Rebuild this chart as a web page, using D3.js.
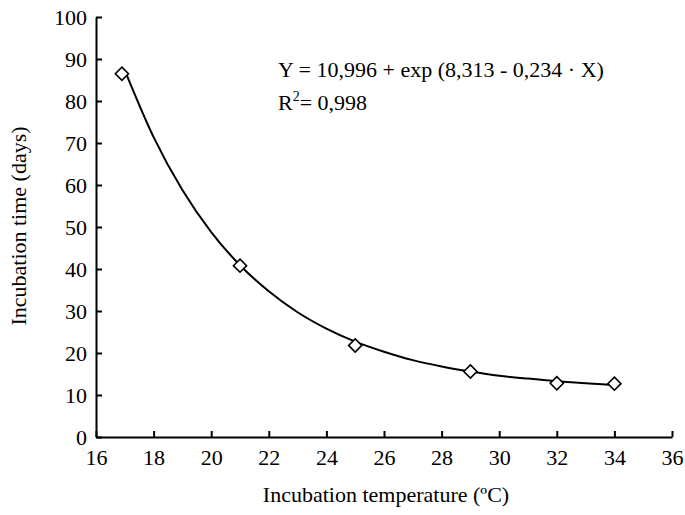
<!DOCTYPE html>
<html><head><meta charset="utf-8">
<script src="https://cdn.jsdelivr.net/npm/d3@7"></script>
</head><body style="margin:0">
<svg id="c" width="685" height="515"></svg>
<script>
const obsTemp = [16.9, 21, 25, 29, 32, 34];
const obsDays = [86.5, 40.8, 21.8, 15.6, 12.8, 12.7];
const fitTemp = [17,18,19,20,21,22,23,24,25,26,27,28,29,30,31,32,33,34];
const fitDays = [87.3,71.4,58.8,48.8,40.9,34.7,29.7,25.8,22.7,20.3,18.3,16.8,15.6,14.6,13.9,13.3,12.8,12.4];
const xTicks = [16,18,20,22,24,26,28,30,32,34,36];
const yTicks = [0,10,20,30,40,50,60,70,80,90,100];
const eqLine1 = "Y = 10,996 + exp (8,313 - 0,234 · X)";
const eqLine2 = "= 0,998";
const xTitle = "Incubation temperature (ºC)";
const yTitle = "Incubation time (days)";

const FONT = "Liberation Serif";
const svg = d3.select("#c");
const x = d3.scaleLinear().domain([16,36]).range([96,672]);
const y = d3.scaleLinear().domain([0,100]).range([437,17]);

const xa = svg.append("g").attr("transform","translate(0,437)")
  .call(d3.axisBottom(x).tickValues(xTicks).tickSize(-6).tickPadding(12).tickSizeOuter(0));
const ya = svg.append("g").attr("transform","translate(96,0)")
  .call(d3.axisLeft(y).tickValues(yTicks).tickSize(-6).tickPadding(9).tickSizeOuter(0));
[xa,ya].forEach(a=>{
  a.attr("font-family",FONT).attr("font-size",22);
  a.selectAll("path,line").attr("stroke","#000").attr("stroke-width",2);
  a.selectAll("text").attr("fill","#000");
});

const line = d3.line().x((d,i)=>x(fitTemp[i])).y(d=>y(d)).curve(d3.curveMonotoneX);
svg.append("path").attr("d",line(fitDays)).attr("fill","none").attr("stroke","#000").attr("stroke-width",2);

const sym = d3.symbol().type(d3.symbolDiamond2).size(110);
svg.selectAll(".pt").data(obsDays).join("path")
  .attr("transform",(d,i)=>`translate(${x(obsTemp[i])},${y(d)})`)
  .attr("d",sym).attr("fill","#fff").attr("stroke","#000").attr("stroke-width",1.6);

const lab = [
  {t:eqLine1, x:278, y:77},
  {t:xTitle, x:386, y:502, a:"middle"}
];
svg.selectAll(".lab").data(lab).join("text").attr("x",d=>d.x).attr("y",d=>d.y)
  .attr("text-anchor",d=>d.a||"start").attr("font-family",FONT).attr("font-size",22).text(d=>d.t);
const r2 = svg.append("text").attr("x",278).attr("y",110).attr("font-family",FONT).attr("font-size",22);
r2.append("tspan").text("R");
r2.append("tspan").attr("font-size",14).attr("dy",-9).text("2");
r2.append("tspan").attr("dy",9).text(eqLine2);
svg.append("text").attr("transform","translate(26,226) rotate(-90)").attr("text-anchor","middle")
  .attr("font-family",FONT).attr("font-size",22).text(yTitle);
</script>
</body></html>
